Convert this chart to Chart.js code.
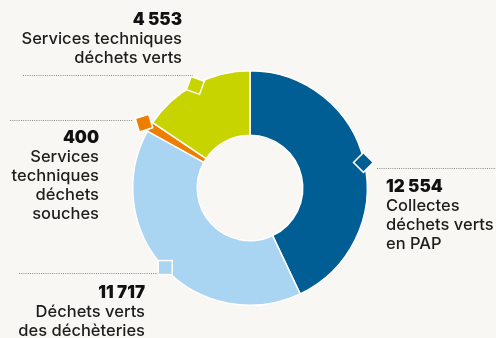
<!DOCTYPE html>
<html>
<head>
<meta charset="utf-8">
<script src="https://cdn.jsdelivr.net/npm/chart.js@4/dist/chart.umd.min.js"></script>
<style>
  html, body { margin: 0; padding: 0; background: #f8f7f3; }
  #wrap { width: 496px; height: 338px; position: relative; }
</style>
</head>
<body>
<div id="wrap"><canvas id="donut"></canvas></div>
<script>
// tonnages de déchets verts par origine
var categories = [
  ["Collectes", "déchets verts", "en PAP"],
  ["Déchets verts", "des déchèteries"],
  ["Services", "techniques", "déchets", "souches"],
  ["Services techniques", "déchets verts"],
];
var tonnages = [12554, 11717, 400, 4553];
var colors = ["#005e95", "#a9d5f3", "#ef7d00", "#c8d400"];

// emplacement des étiquettes et des filets pointillés
var labelPos = [
  { x: 386, y: 192, align: "left", line: [377, 496, 168] },
  { x: 145, y: 298, align: "right", line: [19, 157, 273] },
  { x: 99, y: 143, align: "right", line: [10, 133, 120] },
  { x: 182, y: 25, align: "right", line: [23, 193, 75] },
];
// petits carrés posés sur l'anneau
var markerStyle = [
  { rot: 45, off: -1 },
  { rot: 0, off: -1 },
  { rot: -17, off: 7 },
  { rot: 20, off: -1 },
];

function fmt(n) {
  return String(n).replace(/\B(?=(\d{3})+(?!\d))/g, " ");
}

var labelsPlugin = {
  id: "labels",
  afterDatasetsDraw: function (chart) {
    var ctx = chart.ctx;
    var arcs = chart.getDatasetMeta(0).data;
    ctx.save();
    arcs.forEach(function (arc, i) {
      var p = arc.getProps(["x", "y", "startAngle", "endAngle", "outerRadius"], true);
      var mid = (p.startAngle + p.endAngle) / 2;
      var r = p.outerRadius + markerStyle[i].off;
      var mx = p.x + Math.cos(mid) * r;
      var my = p.y + Math.sin(mid) * r;
      ctx.save();
      ctx.translate(mx, my);
      ctx.rotate(markerStyle[i].rot * Math.PI / 180);
      ctx.fillStyle = colors[i];
      ctx.strokeStyle = "#ffffff";
      ctx.lineWidth = 1.5;
      ctx.fillRect(-7, -7, 14, 14);
      ctx.strokeRect(-7, -7, 14, 14);
      ctx.restore();
    });

    labelPos.forEach(function (lp, i) {
      // filet pointillé
      ctx.save();
      ctx.strokeStyle = "#8a8a8a";
      ctx.lineWidth = 1;
      ctx.setLineDash([1, 1.2]);
      ctx.beginPath();
      ctx.moveTo(lp.line[0], lp.line[2] + 0.5);
      ctx.lineTo(lp.line[1], lp.line[2] + 0.5);
      ctx.stroke();
      ctx.restore();

      ctx.textAlign = lp.align;
      ctx.textBaseline = "alphabetic";
      ctx.fillStyle = "#111111";
      ctx.font = "900 17px Inter";
      ctx.fillText(fmt(tonnages[i]), lp.x, lp.y);
      ctx.fillStyle = "#1d1d1b";
      ctx.font = "500 16.5px Inter";
      categories[i].forEach(function (t, k) {
        ctx.fillText(t, lp.x, lp.y + 19 * (k + 1));
      });
    });
    ctx.restore();
  },
};

var config = {
  type: "doughnut",
  data: {
    labels: categories.map(function (c) { return c.join(" "); }),
    datasets: [
      {
        data: tonnages,
        backgroundColor: colors,
        borderColor: "#ffffff",
        borderWidth: 1.5,
      },
    ],
  },
  options: {
    responsive: false,
    animation: false,
    cutout: "45%",
    layout: { padding: { top: 70, bottom: 32, left: 132, right: 128 } },
    plugins: {
      legend: { display: false },
      tooltip: { enabled: false },
    },
  },
  plugins: [labelsPlugin],
};

var cv = document.getElementById("donut");
cv.width = 496;
cv.height = 338;
new Chart(cv.getContext("2d"), config);
</script>
</body>
</html>
